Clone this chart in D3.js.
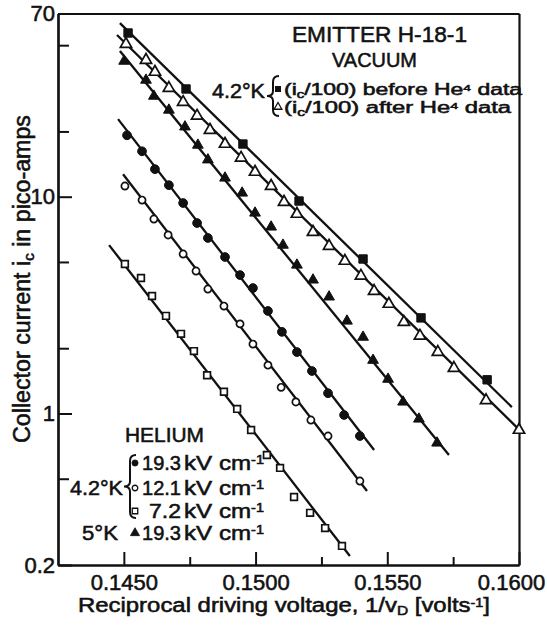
<!DOCTYPE html>
<html><head><meta charset="utf-8">
<script src="https://cdn.jsdelivr.net/npm/d3@7"></script>
<style>
body{margin:0;background:#fff}
svg{display:block}
text{font-family:"Liberation Sans",Arial,sans-serif;fill:#111;stroke:#111;stroke-width:0.55px}
</style>
</head><body>
<svg id="chart" width="547" height="625"></svg>
<script>
// ---------------- DATA ----------------
// Vacuum, 4.2 K, (ic/100) before He4 data  (filled squares)
const vacBeforeX = [0.14516,0.14736,0.14952,0.15165,0.15408,0.15628,0.15879];
const vacBeforeY = [56.9,31.4,17.5,9.55,5.16,2.76,1.43];
const vacBeforeFit = [[0.14485,63.2],[0.15973,1.07]];
// Vacuum, 4.2 K, (ic/100) after He4 data (open triangles)
const vacAfterX = [0.14508,0.14584,0.14618,0.14671,0.14725,0.14778,0.14827,0.14884,0.14945,0.14998,0.15059,0.15108,0.15157,0.15218,0.15279,0.15339,0.15400,0.15450,0.15506,0.15563,0.15624,0.15692,0.15753,0.15875,0.16000];
const vacAfterY = [50.6,42.7,37.6,31.7,27.3,23.6,20.3,17.5,15.1,13.0,11.2,9.45,8.32,6.87,5.92,5.05,4.31,3.67,3.20,2.64,2.28,1.92,1.62,1.15,0.839];
const vacAfterFit = [[0.14474,55.7],[0.16008,0.825]];
// Helium 5 K, 19.3 kV/cm (filled triangles)
const he5kX = [0.14501,0.14584,0.14614,0.14671,0.14732,0.14781,0.14819,0.14884,0.14949,0.14998,0.15059,0.15104,0.15157,0.15218,0.15279,0.15347,0.15408,0.15446,0.15503,0.15560,0.15620,0.15689];
const he5kY = [42.2,34.5,29.1,25.1,21.0,17.3,14.8,12.2,10.4,8.41,7.25,5.98,4.84,4.13,3.45,2.67,2.25,1.76,1.44,1.13,0.943,0.731];
const he5kFit = [[0.14485,47.0],[0.15734,0.643]];
// Helium 4.2 K, 19.3 kV/cm (filled circles)
const he193X = [0.14512,0.14569,0.14618,0.14671,0.14725,0.14778,0.14819,0.14884,0.14941,0.14990,0.15047,0.15100,0.15157,0.15214,0.15275,0.15336,0.15396];
const he193Y = [19.2,16.2,13.4,11.3,9.35,7.56,6.45,5.27,4.35,3.79,2.97,2.38,1.92,1.57,1.24,0.984,0.787];
const he193Fit = [[0.14478,22.8],[0.15450,0.678]];
// Helium 4.2 K, 12.1 kV/cm (open circles)
const he121X = [0.14504,0.14569,0.14614,0.14668,0.14725,0.14774,0.14819,0.14880,0.14941,0.14990,0.15047,0.15097,0.15153,0.15210,0.15275,0.15396];
const he121Y = [11.2,9.65,7.89,6.66,5.44,4.54,3.75,3.13,2.59,2.09,1.67,1.32,1.13,0.933,0.787,0.488];
const he121Fit = [[0.14497,12.7],[0.15423,0.439]];
// Helium 4.2 K, 7.2 kV/cm (open squares)
const he72X = [0.14504,0.14565,0.14607,0.14660,0.14717,0.14766,0.14816,0.14880,0.14930,0.14983,0.15043,0.15093,0.15146,0.15207,0.15264,0.15328];
const he72Y = [4.89,4.22,3.48,2.82,2.33,1.94,1.50,1.26,1.05,0.839,0.643,0.561,0.412,0.348,0.296,0.245];
const he72Fit = [[0.14444,5.98],[0.15358,0.220]];

// axis ticks
const xMajorTicks = [0.1450,0.1500,0.1550,0.1600];
const xMajorLabels = ["0.1450","0.1500","0.1550","0.1600"];
const xMinorTicks = [0.1475,0.1525,0.1575];
const yMajorTicks = [0.2,1,10,70];
const yMajorLabels = ["0.2","1","10","70"];
const yMinorTicks = [0.5,2,5,20,50];

// ---------------- CHART ----------------
const svg = d3.select("#chart");
const x = d3.scaleLinear().domain([0.1425,0.1600]).range([58,519]);
const y = d3.scaleLog().domain([0.2,70]).range([565,13.5]);
const INK = "#111";

function styleAxis(g){
  g.attr("font-size",null).attr("font-family",null);
  g.selectAll("path.domain").attr("stroke",INK).attr("stroke-width",2.2);
  g.selectAll(".tick line").attr("stroke",INK).attr("stroke-width",2);
  g.selectAll(".tick text").attr("fill",INK).style("font-size","22px");
}

// bottom axis
const gx = svg.append("g").attr("transform",`translate(0,${y(0.2)})`)
  .call(d3.axisBottom(x).tickValues(xMajorTicks).tickFormat((d,i)=>xMajorLabels[i])
    .tickSizeInner(-13).tickSizeOuter(0).tickPadding(9));
styleAxis(gx);
gx.selectAll(".tick text").attr("dx",(d,i)=>i===xMajorTicks.length-1?-8:0);
const gxm = svg.append("g").attr("transform",`translate(0,${y(0.2)})`)
  .call(d3.axisBottom(x).tickValues(xMinorTicks).tickFormat("").tickSizeInner(-8).tickSizeOuter(0));
styleAxis(gxm);
// left axis
const gy = svg.append("g").attr("transform",`translate(${x(0.1425)},0)`)
  .call(d3.axisLeft(y).tickValues(yMajorTicks).tickFormat((d,i)=>yMajorLabels[i])
    .tickSizeInner(-14).tickSizeOuter(0).tickPadding(3));
styleAxis(gy);
const gym = svg.append("g").attr("transform",`translate(${x(0.1425)},0)`)
  .call(d3.axisLeft(y).tickValues(yMinorTicks).tickFormat("").tickSizeInner(-11).tickSizeOuter(0));
styleAxis(gym);
// top & right frame
const gt = svg.append("g").attr("transform",`translate(0,${y(70)})`)
  .call(d3.axisTop(x).tickValues([]).tickSizeOuter(0));
styleAxis(gt);
const gr = svg.append("g").attr("transform",`translate(${x(0.1600)},0)`)
  .call(d3.axisRight(y).tickValues([]).tickSizeOuter(0));
styleAxis(gr);

// fit lines
const line = d3.line().x(d=>x(d[0])).y(d=>y(d[1]));
[vacBeforeFit,vacAfterFit,he5kFit,he193Fit,he121Fit,he72Fit].forEach(f=>{
  svg.append("path").attr("d",line(f)).attr("fill","none").attr("stroke",INK).attr("stroke-width",2.3);
});

// markers
function markers(xs,ys,type,size,filled){
  const sym = d3.symbol().type(type).size(size);
  svg.append("g").selectAll("path").data(xs.map((v,i)=>[v,ys[i]])).join("path")
    .attr("transform",d=>`translate(${x(d[0])},${y(d[1])})`)
    .attr("d",sym)
    .attr("fill",filled?INK:"#fff")
    .attr("stroke",INK).attr("stroke-width",filled?1:1.7);
}
markers(vacBeforeX,vacBeforeY,d3.symbolSquare,70,true);
markers(vacAfterX,vacAfterY,d3.symbolTriangle,55,false);
markers(he5kX,he5kY,d3.symbolTriangle,50,true);
markers(he193X,he193Y,d3.symbolCircle,60,true);
markers(he121X,he121Y,d3.symbolCircle,40,false);
markers(he72X,he72Y,d3.symbolSquare,45,false);

// ---------------- TEXT ----------------
function rich(parent,parts,attrs){
  const t = parent.append("text");
  Object.entries(attrs).forEach(([k,v])=>t.attr(k,v));
  if(attrs.textLength) t.attr("lengthAdjust","spacingAndGlyphs");
  parts.forEach(p=>{
    const s = t.append("tspan").text(p[0]);
    if(p[1]==="sub") s.attr("baseline-shift","-25%").style("font-size","65%");
    if(p[1]==="sup") s.attr("baseline-shift","45%").style("font-size","60%");
  });
  return t;
}
function brace(x0,y0,y1){
  const ym=(y0+y1)/2, w=6;
  const p = d3.path();
  p.moveTo(x0+w,y0);
  p.quadraticCurveTo(x0,y0,x0,y0+6);
  p.lineTo(x0,ym-5);
  p.quadraticCurveTo(x0,ym,x0-w,ym);
  p.quadraticCurveTo(x0,ym,x0,ym+5);
  p.lineTo(x0,y1-6);
  p.quadraticCurveTo(x0,y1,x0+w,y1);
  svg.append("path").attr("d",p.toString()).attr("fill","none").attr("stroke",INK).attr("stroke-width",2);
}

// axis titles
rich(svg,[["Reciprocal driving voltage, 1/v"],["D","sub"],[" [volts"],["-1","sup"],["]"]],
  {x:78,y:612,"font-size":20,textLength:412});
rich(svg,[["Collector current i"],["c","sub"],[" in pico-amps"]],
  {transform:"translate(30,443) rotate(-90)","font-size":23,textLength:328});

// vacuum legend
rich(svg,[["EMITTER H-18-1"]],{x:292,y:42,"font-size":22,textLength:175});
rich(svg,[["VACUUM"]],{x:332,y:67,"font-size":21,textLength:85});
rich(svg,[["4.2°K"]],{x:212,y:98,"font-size":21,textLength:53});
brace(273,76,116);
svg.append("path").attr("transform","translate(278,89)").attr("d",d3.symbol().type(d3.symbolSquare).size(36)()).attr("fill",INK);
svg.append("path").attr("transform","translate(278,107)").attr("d",d3.symbol().type(d3.symbolTriangle).size(26)()).attr("fill","#fff").attr("stroke",INK).attr("stroke-width",1.3);
rich(svg,[["(i"],["c","sub"],["/100) before He"],["4","sup"],[" data"]],{x:284,y:95,"font-size":16,textLength:238});
rich(svg,[["(i"],["c","sub"],["/100) after He"],["4","sup"],[" data"]],{x:284,y:113,"font-size":16,textLength:227});

// helium legend
rich(svg,[["HELIUM"]],{x:125,y:442,"font-size":21,textLength:79});
rich(svg,[["4.2°K"]],{x:70,y:495,"font-size":21,textLength:53});
brace(130,455,518);
rich(svg,[["5°K"]],{x:82,y:540,"font-size":21,textLength:36});
const legRows = [
  {yc:463, base:470, num:"19.3", nx:142, type:d3.symbolCircle, size:30, filled:true},
  {yc:488, base:495, num:"12.1", nx:142, type:d3.symbolCircle, size:24, filled:false},
  {yc:511, base:518, num:"7.2", nx:149, type:d3.symbolSquare, size:30, filled:false},
  {yc:533, base:540, num:"19.3", nx:142, type:d3.symbolTriangle, size:36, filled:true}
];
legRows.forEach(r=>{
  svg.append("path").attr("transform",`translate(135,${r.yc})`)
    .attr("d",d3.symbol().type(r.type).size(r.size)())
    .attr("fill",r.filled?INK:"#fff").attr("stroke",INK).attr("stroke-width",r.filled?0.8:1.3);
  rich(svg,[[r.num]],{x:r.nx,y:r.base,"font-size":21,textLength:181-r.nx});
  rich(svg,[["kV cm"],["-1","sup"]],{x:184,y:r.base,"font-size":21,textLength:80});
});
</script>
</body></html>
